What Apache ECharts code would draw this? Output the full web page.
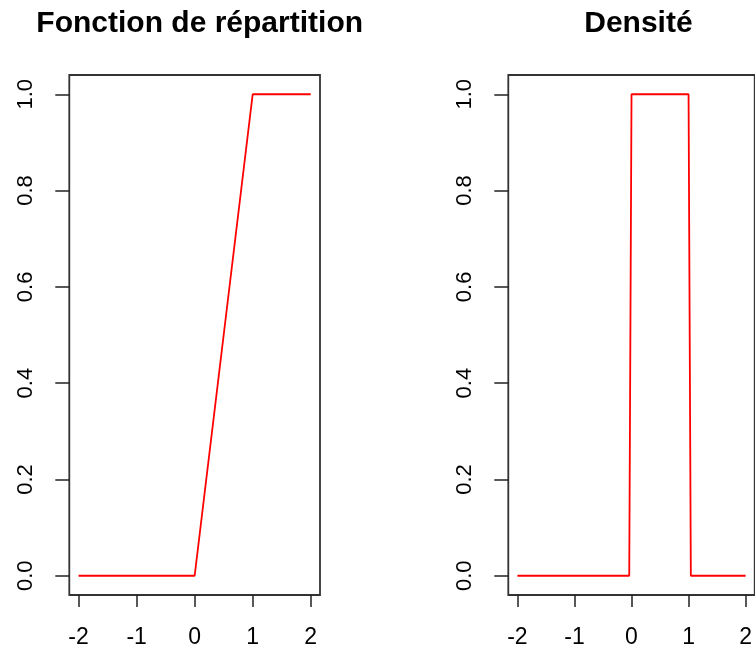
<!DOCTYPE html>
<html>
<head>
<meta charset="utf-8">
<script src="https://cdn.jsdelivr.net/npm/echarts@6/dist/echarts.min.js"></script>
<style>html,body{margin:0;padding:0;background:#fff;}#c{width:755px;height:649px;}</style>
</head>
<body>
<div id="c"></div>
<script>
var titles = ['Fonction de répartition', 'Densité'];
var cdfX = [-2, 0, 1, 2];
var cdfY = [0, 0, 1, 1];
var densX = [-2, -0.04, 0, 1, 1.04, 2];
var densY = [0, 0, 1, 1, 0, 0];
var xTicks = [-2, -1, 0, 1, 2];
var yTicks = [0, 0.2, 0.4, 0.6, 0.8, 1.0];
var yTickLabels = ['0.0', '0.2', '0.4', '0.6', '0.8', '1.0'];

function pairs(xs, ys) { return xs.map(function (x, i) { return [x, ys[i]]; }); }

var font = 'Liberation Sans, Arial, sans-serif';
var grids = [
  { left: 69.3, top: 75, width: 250.7, height: 520 },
  { left: 508.3, top: 75, width: 250.2, height: 520 }
];
var centers = [194.7, 633.4];

function xAxis(i) {
  return {
    type: 'value', gridIndex: i, min: -2.16, max: 2.16, position: 'bottom',
    axisLine: { show: false, onZero: false },
    splitLine: { show: false },
    axisTick: { show: true, inside: false, length: 12, customValues: xTicks, lineStyle: { color: '#222', width: 1.5 } },
    axisLabel: { customValues: xTicks, margin: 31, fontSize: 23, fontFamily: font, color: '#000', lineHeight: 23 }
  };
}
function yAxis(i) {
  return {
    type: 'value', gridIndex: i, min: -0.04, max: 1.04, position: 'left',
    axisLine: { show: false, onZero: false },
    splitLine: { show: false },
    axisTick: { show: true, inside: false, length: 14, customValues: yTicks, lineStyle: { color: '#222', width: 1.5 } },
    axisLabel: {
      customValues: yTicks, rotate: 90, margin: 32, fontSize: 22, lineHeight: 22, fontFamily: font, color: '#000',
      formatter: function (v) { var k = yTicks.indexOf(v); return k >= 0 ? yTickLabels[k] : ''; }
    }
  };
}

var chart = echarts.init(document.getElementById('c'), null, { renderer: 'canvas' });
chart.setOption({
  animation: false,
  backgroundColor: '#fff',
  title: titles.map(function (t, i) {
    return { text: t, left: centers[i], top: 4, textAlign: 'center',
      textStyle: { fontSize: 30, fontWeight: 'bold', fontFamily: font, color: '#000' } };
  }),
  grid: grids.map(function (g) {
    return Object.assign({ show: true, borderColor: '#333', borderWidth: 1.8, backgroundColor: 'transparent', containLabel: false }, g);
  }),
  xAxis: [xAxis(0), xAxis(1)],
  yAxis: [yAxis(0), yAxis(1)],
  series: [
    { type: 'line', xAxisIndex: 0, yAxisIndex: 0, data: pairs(cdfX, cdfY), showSymbol: false,
      lineStyle: { color: '#ff0000', width: 1.8 }, itemStyle: { color: '#ff0000' } },
    { type: 'line', xAxisIndex: 1, yAxisIndex: 1, data: pairs(densX, densY), showSymbol: false,
      lineStyle: { color: '#ff0000', width: 1.8 }, itemStyle: { color: '#ff0000' } }
  ]
});
</script>
</body>
</html>
